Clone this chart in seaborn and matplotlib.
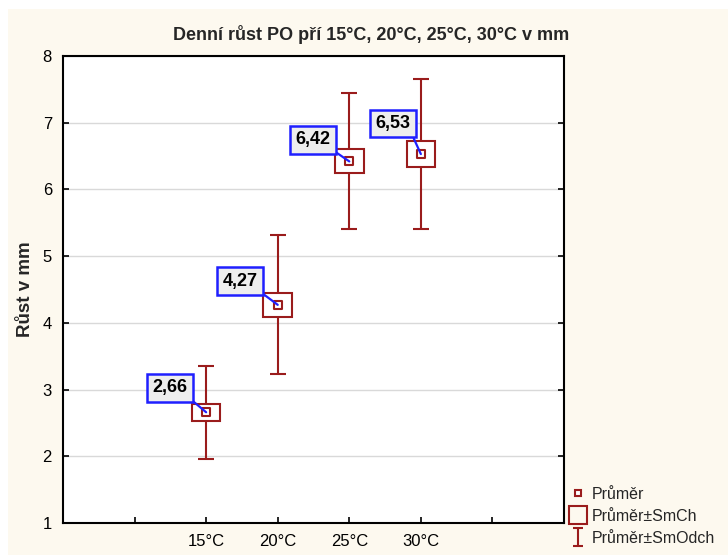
import numpy as np
import pandas as pd
import seaborn as sns
import matplotlib
matplotlib.use('Agg')
import matplotlib.pyplot as plt
from matplotlib.patches import Rectangle
from matplotlib.lines import Line2D
from matplotlib.path import Path

# summary stats
groups = ['15°C', '20°C', '25°C', '30°C']
means = [2.66, 4.27, 6.42, 6.53]
se = [0.13, 0.18, 0.18, 0.20]
sd = [0.70, 1.04, 1.02, 1.13]
tick_labels = ['', '15°C', '20°C', '25°C', '30°C', '']

sns.set_style('white')
plt.rcParams['font.family'] = ['Liberation Sans', 'DejaVu Sans']

red = '#9a1c1c'
cream = '#fdf9ef'

df = pd.DataFrame({'group': groups, 'mean': means, 'se': se, 'sd': sd})
df['pos'] = np.arange(2, 2 + len(groups))

fig = plt.figure(figsize=(7.28, 5.55), dpi=100, facecolor='white')
fig.patches.append(Rectangle((8/728, 0), 1, 1 - 9/555, transform=fig.transFigure,
                             facecolor=cream, edgecolor='none', zorder=-10))
ax = fig.add_axes([63/728, 1 - 523/555, 501/728, 467/555])
ax.set_facecolor('white')

# SD whiskers
ax.errorbar(df['pos'], df['mean'], yerr=df['sd'], fmt='none', ecolor=red,
            elinewidth=1.5, capsize=5.8, capthick=1.5, zorder=2)

# SE boxes
bw = 0.4
for _, r in df.iterrows():
    ax.add_patch(Rectangle((r['pos'] - bw/2, r['mean'] - r['se']), bw, 2*r['se'],
                           facecolor='white', edgecolor=red, linewidth=1.5, zorder=3))

# means
sns.scatterplot(data=df, x='pos', y='mean', marker='s', s=28, color='white',
                edgecolor=red, linewidth=1.5, zorder=4, ax=ax, legend=False)

# value labels
offsets = [(-19, 16), (-20, 15), (-19, 13), (-10, 22)]
for (_, r), off in zip(df.iterrows(), offsets):
    ax.annotate(f"{r['mean']:.2f}".replace('.', ','), xy=(r['pos'], r['mean']),
                xytext=off, textcoords='offset pixels', ha='right', va='bottom',
                fontsize=13, fontweight='bold', color='black', zorder=6,
                bbox=dict(boxstyle='square,pad=0.3', facecolor='#eeeeee',
                          edgecolor='#1f1fff', linewidth=1.8),
                arrowprops=dict(arrowstyle='-', color='#1f1fff', lw=1.6,
                                relpos=(1, 0), shrinkA=0, shrinkB=0))

ax.set_xlim(0, 7)
ax.set_ylim(1, 8)
ax.set_xticks(range(1, 7))
ax.set_xticklabels(tick_labels)
ax.set_yticks(range(1, 9))
ax.yaxis.grid(True, color='#d9d9d9', linewidth=1)
ax.xaxis.grid(False)
ax.tick_params(axis='both', direction='in', length=4, width=1.2, labelsize=12,
               colors='black', pad=8)
ax.tick_params(axis='y', right=True, left=True)
ax.tick_params(axis='x', bottom=True)
for s in ax.spines.values():
    s.set_color('black')
    s.set_linewidth(1.5)

ax.set_xlabel('')
ax.set_ylabel('Růst v mm', fontsize=13.5, fontweight='bold', labelpad=6)
fig.suptitle('Denní růst PO pří 15°C, 20°C, 25°C, 30°C v mm', x=0.51, y=0.955,
             fontsize=13, fontweight='bold')

ibar = Path([(-0.5, 1), (0.5, 1), (0, 1), (0, -1), (-0.5, -1), (0.5, -1)],
            [Path.MOVETO, Path.LINETO, Path.MOVETO, Path.LINETO, Path.MOVETO, Path.LINETO])
handles = [
    Line2D([], [], linestyle='none', marker='s', markersize=5, markerfacecolor='white',
           markeredgecolor=red, markeredgewidth=1.5),
    Line2D([], [], linestyle='none', marker='s', markersize=13, markerfacecolor='none',
           markeredgecolor=red, markeredgewidth=1.5),
    Line2D([], [], linestyle='none', marker=ibar, markersize=13, markerfacecolor='none',
           markeredgecolor=red, markeredgewidth=1.5),
]
fig.legend(handles, ['Průměr', 'Průměr±SmCh', 'Průměr±SmOdch'], loc='lower left',
           bbox_to_anchor=(0.768, -0.004), frameon=False, fontsize=11.5,
           handlelength=1.0, handletextpad=0.35, labelspacing=0.45, borderpad=0.2)

plt.savefig('out.png', dpi=100, facecolor=fig.get_facecolor())
